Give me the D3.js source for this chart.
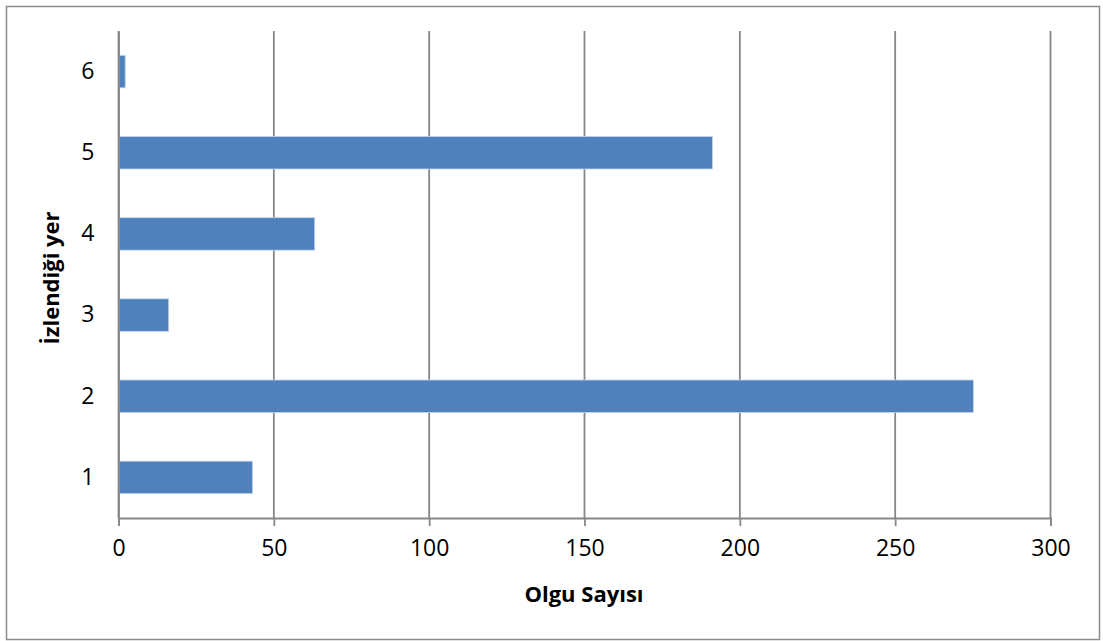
<!DOCTYPE html>
<meta charset="utf-8">
<style>
  body { margin: 0; background: #fff; }
  text { font-family: "Open Sans", sans-serif; fill: #000; }
</style>
<script src="https://d3js.org/d3.v7.min.js"></script>
<div id="chart"></div>
<script>
// data
var categories = ["1", "2", "3", "4", "5", "6"];
var values = [43, 275, 16, 63, 191, 2];
var xTicks = [0, 50, 100, 150, 200, 250, 300];
var xTitle = "Olgu Sayısı";
var yTitle = "İzlendiği yer";

var W = 1103, H = 641;
var margin = {top: 31, right: 53, bottom: 123, left: 118.5};
var width = 1050.5 - margin.left,
    height = 518 - margin.top;

var svg = d3.select("#chart").append("svg")
    .attr("width", W).attr("height", H);

// outer border
svg.append("rect")
    .attr("x", 6.5).attr("y", 6.5)
    .attr("width", 1093).attr("height", 633)
    .attr("fill", "none").attr("stroke", "#8c8c8c").attr("stroke-width", 1.5);

var g = svg.append("g")
    .attr("transform", "translate(" + margin.left + "," + margin.top + ")");

var x = d3.scaleLinear().domain([0, 300]).range([0, width]);
var y = d3.scaleBand().domain(categories.slice().reverse()).range([0, height])
    .paddingInner(0.6).paddingOuter(0.3);

// gridlines
g.selectAll(".grid").data(xTicks).enter().append("line")
    .attr("x1", function(d) { return x(d); })
    .attr("x2", function(d) { return x(d); })
    .attr("y1", 0).attr("y2", height)
    .attr("stroke", "#878787").attr("stroke-width", 1.8);

// bars
var data = categories.map(function(c, i) { return {cat: c, val: values[i]}; });
g.selectAll(".bar").data(data).enter().append("rect")
    .attr("x", x(0) + 0.5)
    .attr("y", function(d) { return y(d.cat); })
    .attr("width", function(d) { return x(d.val) - x(0); })
    .attr("height", y.bandwidth())
    .attr("fill", "#4F81BD")
    .attr("stroke", "#c3d4ea").attr("stroke-width", 0.8);

// x axis
var xAxis = g.append("g")
    .attr("transform", "translate(0," + height + ")")
    .call(d3.axisBottom(x).tickValues(xTicks).tickSize(8).tickPadding(14));
xAxis.select(".domain").attr("stroke", "#878787").attr("stroke-width", 1.8);
xAxis.selectAll(".tick line").attr("stroke", "#878787").attr("stroke-width", 1.8);
xAxis.selectAll("text").style("font-size", "23px").attr("fill", "#000");

// y axis
var yAxis = g.append("g")
    .call(d3.axisLeft(y).tickSize(0).tickPadding(24));
yAxis.select(".domain").attr("stroke", "#878787").attr("stroke-width", 1.8);
yAxis.selectAll("text").style("font-size", "23px").attr("fill", "#000");

// titles
svg.append("text")
    .attr("x", 584).attr("y", 602)
    .attr("text-anchor", "middle")
    .style("font-size", "22px").style("font-weight", "bold")
    .text(xTitle);

svg.append("text")
    .attr("transform", "translate(59,278) rotate(-90)")
    .attr("text-anchor", "middle")
    .style("font-size", "22px").style("font-weight", "bold")
    .text(yTitle);
</script>
